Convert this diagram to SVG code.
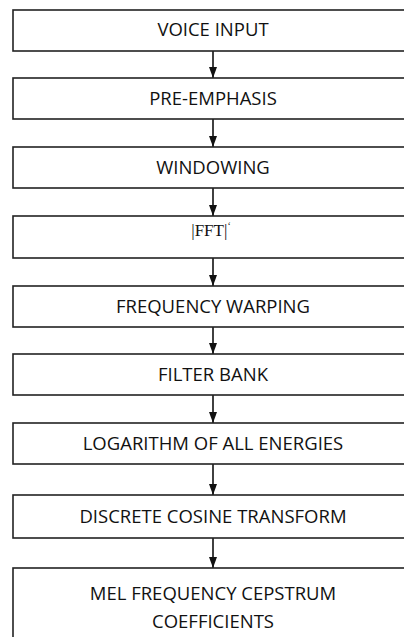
<svg xmlns="http://www.w3.org/2000/svg" width="404" height="637" viewBox="0 0 404 637">
<style>
.box{fill:#fff;stroke:#222;stroke-width:1.6}
.t{font-family:"Open Sans","Liberation Sans",sans-serif;font-size:18.5px;fill:#111;text-anchor:middle}
.s{font-family:"Liberation Serif",serif;font-size:17px;fill:#111;text-anchor:middle}
.c{stroke:#111;stroke-width:1.6;fill:none}
</style>
<defs>
<marker id="ah" markerWidth="11" markerHeight="8" refX="11" refY="4" orient="auto" markerUnits="userSpaceOnUse" viewBox="0 0 11 8">
<path d="M0,0 L11,4 L0,8 Z" fill="#111"/>
</marker>
</defs>
<rect width="404" height="637" fill="#fff"/>
<g id="connectors">
<line class="c" x1="213" y1="51" x2="213" y2="78" marker-end="url(#ah)"/>
<line class="c" x1="213" y1="119" x2="213" y2="147" marker-end="url(#ah)"/>
<line class="c" x1="213" y1="188" x2="213" y2="216" marker-end="url(#ah)"/>
<line class="c" x1="213" y1="258" x2="213" y2="286" marker-end="url(#ah)"/>
<line class="c" x1="213" y1="327" x2="213" y2="354" marker-end="url(#ah)"/>
<line class="c" x1="213" y1="395" x2="213" y2="423" marker-end="url(#ah)"/>
<line class="c" x1="213" y1="464" x2="213" y2="495" marker-end="url(#ah)"/>
<line class="c" x1="213" y1="538" x2="213" y2="568" marker-end="url(#ah)"/>
</g>
<g id="n1"><rect class="box" x="13" y="10" width="400" height="41"/><text class="t" x="213" y="36">VOICE INPUT</text></g>
<g id="n2"><rect class="box" x="13" y="78" width="400" height="41"/><text class="t" x="213" y="105">PRE-EMPHASIS</text></g>
<g id="n3"><rect class="box" x="13" y="147" width="400" height="41"/><text class="t" x="213" y="174">WINDOWING</text></g>
<g id="n4"><rect class="box" x="13" y="216" width="400" height="42"/><text class="s" x="211" y="236">|FFT|<tspan font-size="10" dy="-7">ʻ</tspan></text></g>
<g id="n5"><rect class="box" x="13" y="286" width="400" height="41"/><text class="t" x="213" y="313">FREQUENCY WARPING</text></g>
<g id="n6"><rect class="box" x="13" y="354" width="400" height="41"/><text class="t" x="213" y="381">FILTER BANK</text></g>
<g id="n7"><rect class="box" x="13" y="423" width="400" height="41"/><text class="t" x="213" y="450">LOGARITHM OF ALL ENERGIES</text></g>
<g id="n8"><rect class="box" x="13" y="495" width="400" height="43"/><text class="t" x="213" y="523">DISCRETE COSINE TRANSFORM</text></g>
<g id="n9"><rect class="box" x="13" y="568" width="400" height="80"/><text class="t" x="213" y="600">MEL FREQUENCY CEPSTRUM</text><text class="t" x="213" y="628">COEFFICIENTS</text></g>
</svg>
